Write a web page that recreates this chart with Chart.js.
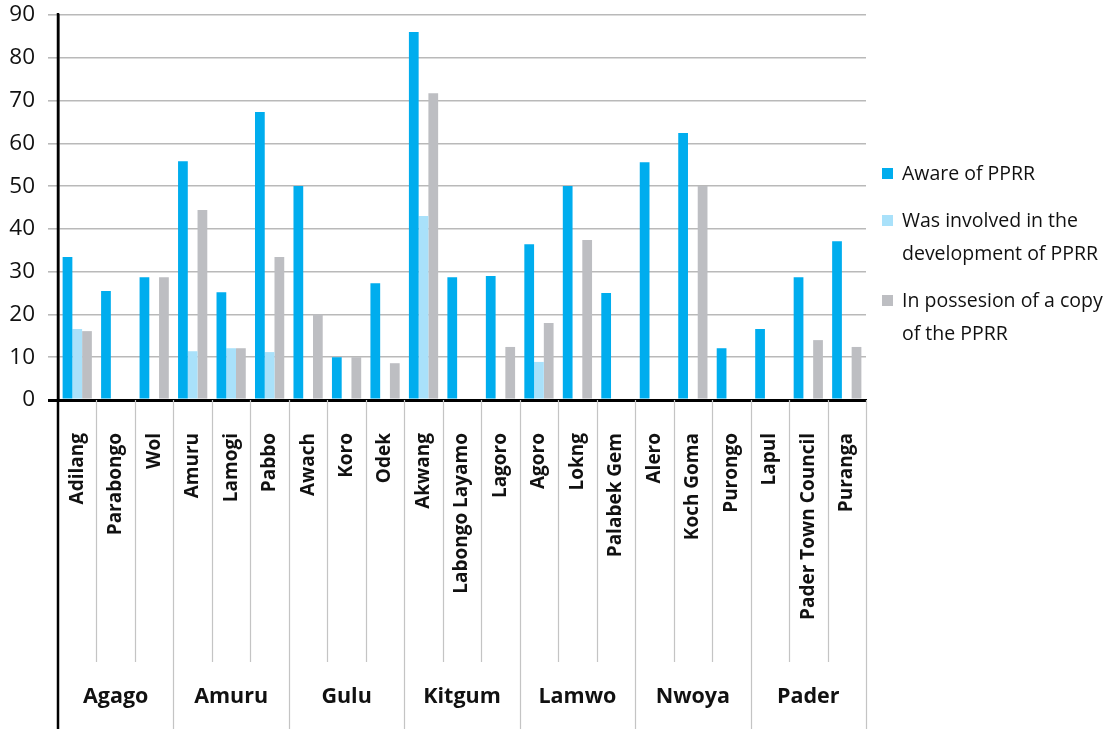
<!DOCTYPE html>
<html>
<head>
<meta charset="utf-8">
<script src="https://cdn.jsdelivr.net/npm/chart.js@4"></script>
<style>
  html, body { margin: 0; padding: 0; background: #fff; }
  #wrap { position: relative; width: 1118px; height: 729px; }
  #legend {
    position: absolute; left: 882px; top: 156px;
    font-family: "Open Sans", sans-serif; font-size: 19.5px; color: #111;
    line-height: 33px;
  }
  #legend .item { position: relative; padding-left: 20px; margin-bottom: 14px; }
  #legend .box { position: absolute; left: 0; top: 12px; width: 11px; height: 11px; }
</style>
</head>
<body>
<div id="wrap">
  <canvas id="chart"></canvas>
  <div id="legend"></div>
</div>
<script>
// Sous-comtés (catégories) et districts
const subcounties = ['Adilang', 'Parabongo', 'Wol', 'Amuru', 'Lamogi', 'Pabbo', 'Awach', 'Koro', 'Odek',
  'Akwang', 'Labongo Layamo', 'Lagoro', 'Agoro', 'Lokng', 'Palabek Gem', 'Alero', 'Koch Goma', 'Purongo',
  'Lapul', 'Pader Town Council', 'Puranga'];
const districts = ['Agago', 'Amuru', 'Gulu', 'Kitgum', 'Lamwo', 'Nwoya', 'Pader'];
const districtSizes = [3, 3, 3, 3, 3, 3, 3];

// Séries
const seriesNames = ['Aware of PPRR', 'Was involved in the development of PPRR', 'In possesion of a copy of the PPRR'];
const aware = [33.4, 25.5, 28.7, 55.8, 25.2, 67.3, 50, 10, 27.3, 86, 28.7, 29, 36.4, 50, 25, 55.6, 62.4, 12.1, 16.6, 28.7, 37.1];
const involved = [16.6, 0, 0, 11.4, 12.1, 11.2, 0, 0, 0, 43, 0, 0, 8.9, 0, 0, 0, 0, 0, 0, 0, 0];
const copy = [16.1, 0, 28.7, 44.4, 12.1, 33.4, 20, 10, 8.6, 71.7, 0, 12.4, 18, 37.4, 0, 0, 50, 0, 0, 14, 12.4];

const yTicks = [0, 10, 20, 30, 40, 50, 60, 70, 80, 90];
const colors = ['#00ADEE', '#A9E1FA', '#BDBEC2'];

const FONT = '"Open Sans", sans-serif';

// Lignes de séparation et noms de districts sous l'axe
const groupAxisPlugin = {
  id: 'groupAxis',
  afterDraw(chart) {
    const ctx = chart.ctx;
    const area = chart.chartArea;
    const w = (area.right - area.left) / subcounties.length;
    const bottom = chart.height;

    ctx.save();
    // séparateurs
    const starts = [0];
    districtSizes.forEach((n, i) => starts.push(starts[i] + n));
    ctx.strokeStyle = '#c4c4c4';
    ctx.lineWidth = 1.2;
    for (let i = 1; i <= subcounties.length; i++) {
      const px = Math.round(area.left + i * w) + 0.5;
      const full = starts.includes(i);
      ctx.beginPath();
      ctx.moveTo(px, area.bottom);
      ctx.lineTo(px, full ? bottom : 662);
      ctx.stroke();
    }
    // prolongement de l'axe vertical
    ctx.strokeStyle = '#000';
    ctx.lineWidth = 2.5;
    ctx.beginPath();
    ctx.moveTo(area.left, area.top - 2);
    ctx.lineTo(area.left, bottom);
    ctx.stroke();

    // noms des districts
    ctx.fillStyle = '#111';
    ctx.font = 'bold 21.5px ' + FONT;
    ctx.textAlign = 'center';
    ctx.textBaseline = 'middle';
    districts.forEach((d, i) => {
      const cx = area.left + (starts[i] + districtSizes[i] / 2) * w;
      ctx.fillText(d, cx, 697);
    });
    ctx.restore();
  }
};

new Chart(document.getElementById('chart'), {
  type: 'bar',
  data: {
    labels: subcounties,
    datasets: [
      { label: seriesNames[0], data: aware, backgroundColor: colors[0] },
      { label: seriesNames[1], data: involved, backgroundColor: colors[1] },
      { label: seriesNames[2], data: copy, backgroundColor: colors[2] }
    ]
  },
  options: {
    responsive: true,
    maintainAspectRatio: false,
    animation: false,
    layout: { padding: { top: 15, right: 252, left: 0, bottom: 0 } },
    datasets: { bar: { categoryPercentage: 0.76, barPercentage: 1.0 } },
    scales: {
      x: {
        grid: { display: false },
        border: { color: '#000', width: 3 },
        ticks: {
          minRotation: 90,
          maxRotation: 90,
          autoSkip: false,
          padding: 25,
          color: '#111',
          font: { family: FONT, size: 19, weight: 'bold' }
        },
        afterFit(scale) { scale.height = 329; scale.paddingTop = 0; scale.paddingBottom = 0; }
      },
      y: {
        min: 0,
        max: 90,
        afterBuildTicks(scale) { scale.ticks = yTicks.map(v => ({ value: v })); },
        grid: {
          color: ctx => ctx.tick && ctx.tick.value === 0 ? '#000' : '#b9b9b9',
          lineWidth: ctx => ctx.tick && ctx.tick.value === 0 ? 3 : 1.6,
          tickLength: 10,
          tickColor: ctx => ctx.tick && ctx.tick.value === 0 ? '#000' : '#b9b9b9'
        },
        border: { color: '#000', width: 2.5 },
        ticks: {
          padding: 13,
          color: '#111',
          font: { family: FONT, size: 22.5 }
        },
        afterFit(scale) { scale.width = 58; scale.paddingTop = 0; scale.paddingBottom = 0; }
      }
    },
    plugins: {
      legend: { display: false },
      tooltip: { enabled: false }
    }
  },
  plugins: [groupAxisPlugin]
});

// Légende HTML (texte sur plusieurs lignes)
const legendEl = document.getElementById('legend');
const legendLines = [['Aware of PPRR'], ['Was involved in the', 'development of PPRR'], ['In possesion of a copy', 'of the PPRR']];
legendLines.forEach((lines, i) => {
  const item = document.createElement('div');
  item.className = 'item';
  item.innerHTML = '<span class="box" style="background:' + colors[i] + '"></span>' + lines.join('<br>');
  legendEl.appendChild(item);
});
</script>
</body>
</html>
